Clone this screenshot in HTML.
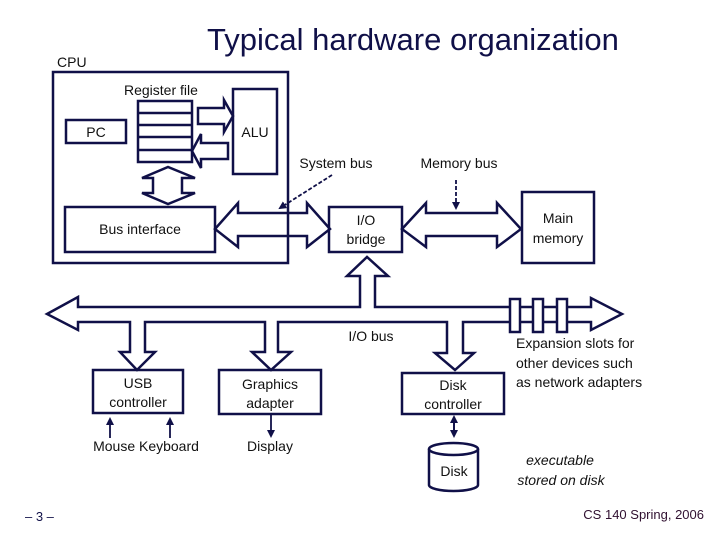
<!DOCTYPE html>
<html><head><style>
html,body{margin:0;padding:0;background:#fff;}
svg{display:block;}
text{font-family:"Liberation Sans",sans-serif;fill:#111;}
</style></head><body>
<svg width="720" height="540" viewBox="0 0 720 540" xmlns="http://www.w3.org/2000/svg">
<defs>
<marker id="ah" markerWidth="8" markerHeight="8" refX="6" refY="4" orient="auto" markerUnits="userSpaceOnUse"><path d="M0,0 L8,4 L0,8 z" fill="#101048"/></marker>
</defs>
<g fill="none" stroke="#101048" stroke-width="2.5" stroke-linejoin="miter">
<!-- CPU box -->
<rect x="53" y="72" width="235" height="191"/>
<!-- Register file -->
<rect x="138" y="101" width="54" height="61"/>
<line x1="138" y1="113" x2="192" y2="113"/><line x1="138" y1="125" x2="192" y2="125"/>
<line x1="138" y1="137" x2="192" y2="137"/><line x1="138" y1="150" x2="192" y2="150"/>
<!-- PC -->
<rect x="66" y="120" width="60" height="23"/>
<!-- ALU -->
<rect x="233" y="89" width="44" height="85"/>
<!-- reg->ALU arrow -->
<polygon points="198,108 224,108 224,100 233,116 224,132 224,124 198,124"/>
<!-- ALU->reg arrow -->
<polygon points="228,143 201,143 201,134 192,151 201,168 201,159 228,159"/>
<!-- vertical double arrow -->
<polygon points="153,178 142,178 168,167 195,178 182,178 182,193 195,193 168,204 142,193 153,193"/>
<!-- Bus interface -->
<rect x="65" y="207" width="150" height="45"/>
<!-- system bus -->
<polygon points="215,229 238,203 238,213 307,213 307,203 330,229 307,247 307,236 238,236 238,247"/>
<!-- I/O bridge -->
<rect x="329" y="207" width="73" height="45"/>
<!-- memory bus -->
<polygon points="402,229 426,203 426,213 497,213 497,203 521,229 497,247 497,236 426,236 426,247"/>
<!-- Main memory -->
<rect x="522" y="192" width="72" height="71"/>
<!-- I/O bus -->
<polygon points="47,314 78,297 78,307 360,307 360,276 347,276 367,257 388,276 375,276 375,307 591,307 591,298 622,314 591,330 591,322 463,322 463,353 474,353 455,370 435,353 447,353 447,322 278,322 278,352 291,352 271,370 252,352 265,352 265,322 145,322 145,352 155,352 137,370 120,352 130,352 130,322 78,322 78,330" fill="#fff"/>
<!-- slots -->
<rect x="510" y="299" width="10" height="33" fill="#fff"/>
<rect x="533" y="299" width="10" height="33" fill="#fff"/>
<rect x="557" y="299" width="10" height="33" fill="#fff"/>
<!-- USB -->
<rect x="93" y="370" width="90" height="43"/>
<!-- Graphics -->
<rect x="219" y="370" width="102" height="44"/>
<!-- Disk controller -->
<rect x="402" y="373" width="102" height="41"/>
<!-- Disk cylinder -->
<path d="M429,449 L429,485 A24.5,6 0 0 0 478,485 L478,449"/>
<ellipse cx="453.5" cy="449" rx="24.5" ry="6"/>
</g>
<g stroke="#101048" stroke-width="1.8" fill="none">
<line x1="110" y1="438" x2="110" y2="419" marker-end="url(#ah)"/>
<line x1="170" y1="438" x2="170" y2="419" marker-end="url(#ah)"/>
<line x1="271" y1="414" x2="271" y2="436" marker-end="url(#ah)"/>
<line x1="454" y1="422" x2="454" y2="436" marker-end="url(#ah)"/>
<line x1="454" y1="430" x2="454" y2="417" marker-end="url(#ah)"/>
<line x1="332" y1="175" x2="280" y2="208" stroke-dasharray="4,2" marker-end="url(#ah)"/>
<line x1="456" y1="180" x2="456" y2="208" stroke-dasharray="4,2" marker-end="url(#ah)"/>
</g>
<text x="207" y="50" font-size="31" fill="#101048" style="fill:#101048">Typical hardware organization</text>
<text x="57" y="67" font-size="14">CPU</text>
<text x="124" y="95" font-size="14">Register file</text>
<text x="96" y="137" font-size="14" text-anchor="middle">PC</text>
<text x="255" y="137" font-size="14" text-anchor="middle">ALU</text>
<text x="336" y="168" font-size="14" text-anchor="middle">System bus</text>
<text x="459" y="168" font-size="14" text-anchor="middle">Memory bus</text>
<text x="140" y="234" font-size="14" text-anchor="middle">Bus interface</text>
<text x="366" y="225" font-size="14" text-anchor="middle">I/O</text>
<text x="366" y="244" font-size="14" text-anchor="middle">bridge</text>
<text x="558" y="223" font-size="14" text-anchor="middle">Main</text>
<text x="558" y="243" font-size="14" text-anchor="middle">memory</text>
<text x="371" y="341" font-size="14" text-anchor="middle">I/O bus</text>
<text x="516" y="348" font-size="14">Expansion slots for</text>
<text x="516" y="368" font-size="14">other devices such</text>
<text x="516" y="387" font-size="14">as network adapters</text>
<text x="138" y="388" font-size="14" text-anchor="middle">USB</text>
<text x="138" y="407" font-size="14" text-anchor="middle">controller</text>
<text x="270" y="389" font-size="14" text-anchor="middle">Graphics</text>
<text x="270" y="408" font-size="14" text-anchor="middle">adapter</text>
<text x="453" y="390" font-size="14" text-anchor="middle">Disk</text>
<text x="453" y="409" font-size="14" text-anchor="middle">controller</text>
<text x="146" y="451" font-size="14" text-anchor="middle">Mouse Keyboard</text>
<text x="270" y="451" font-size="14" text-anchor="middle">Display</text>
<text x="454" y="476" font-size="14" text-anchor="middle">Disk</text>
<text x="560" y="465" font-size="14" text-anchor="middle" font-style="italic">executable</text>
<text x="561" y="485" font-size="14" text-anchor="middle" font-style="italic">stored on disk</text>
<text x="25" y="521" font-size="13" style="fill:#101048">– 3 –</text>
<text x="704" y="519" font-size="13" text-anchor="end" style="fill:#301030">CS 140 Spring, 2006</text>
</svg>
</body></html>
